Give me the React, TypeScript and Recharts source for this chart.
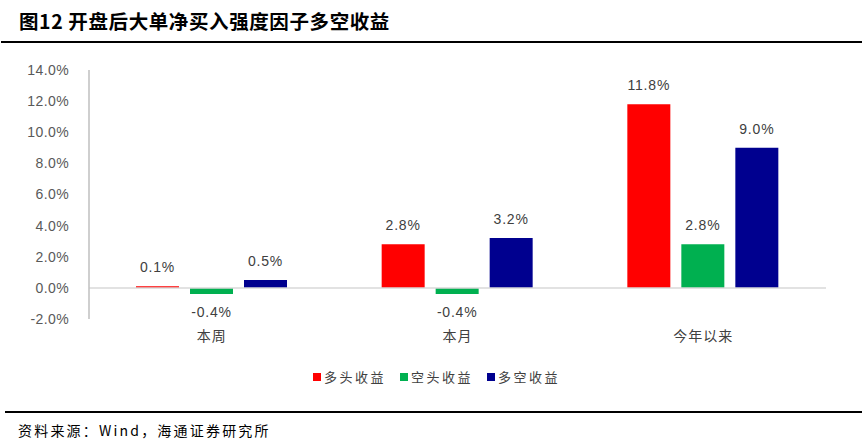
import React from 'react'
import { BarChart, Bar, XAxis, YAxis, ReferenceLine, LabelList } from 'recharts'

// categories and series values (in %)
const categories = ['本周', '本月', '今年以来']
const longValues = [0.1, 2.8, 11.8]
const shortValues = [-0.4, -0.4, 2.8]
const spreadValues = [0.5, 3.2, 9.0]
const yTicks = [-2, 0, 2, 4, 6, 8, 10, 12, 14]

const series = [
  { key: 'long', label: '多头收益', color: '#ff0000', values: longValues },
  { key: 'short', label: '空头收益', color: '#00b050', values: shortValues },
  { key: 'spread', label: '多空收益', color: '#00008f', values: spreadValues },
]

const data = categories.map((name, i) => {
  const row: Record<string, number | string> = { name }
  for (const s of series) row[s.key] = s.values[i]
  return row
})

const FONT = '"Liberation Sans", Arial, "Noto Sans CJK SC", sans-serif'
const CJK = '"Noto Sans CJK SC", "Liberation Sans", sans-serif'

// value label: above a positive bar, below a negative one
function ValueLabel(props: any) {
  const { x, y, width, height, value } = props
  const top = Math.min(y, y + height)
  const bottom = Math.max(y, y + height)
  const cy = value >= 0 ? top - 19 : bottom + 18
  return (
    <text x={x + width / 2} y={cy} dy="0.35em" textAnchor="middle"
      fill="#404040" fontSize={14} letterSpacing={0.8} fontFamily={FONT}>
      {`${Number(value).toFixed(1)}%`}
    </text>
  )
}

export default function App() {
  return (
    <div style={{ position: 'absolute', left: 0, top: 0, width: 868, height: 444, background: '#fff', overflow: 'hidden' }}>
      <div style={{
        position: 'absolute', left: 19, top: 8, fontFamily: CJK, fontWeight: 700,
        fontSize: 19.5, color: '#000', whiteSpace: 'nowrap', lineHeight: '26px', letterSpacing: 0.6,
      }}>
        图12 开盘后大单净买入强度因子多空收益
      </div>
      <div style={{ position: 'absolute', left: 1, right: 6, top: 41, height: 1.5, background: '#000' }} />

      <div style={{ position: 'absolute', left: 0, top: 0 }}>
        <BarChart width={868} height={444} data={data}
          margin={{ top: 70, right: 42, left: 29, bottom: 95 }}
          barSize={43} barGap={11}>
          <XAxis dataKey="name" axisLine={false} tickLine={false} tickSize={6} tickMargin={6}
            height={30} interval={0}
            tick={{ fill: '#404040', fontSize: 14, fontFamily: CJK, letterSpacing: 1 }} />
          <YAxis domain={[-2, 14]} ticks={yTicks} width={60} tickLine={false}
            axisLine={{ stroke: '#bfbfbf', strokeWidth: 1.5 }} tickMargin={14}
            tickFormatter={(v: number) => `${v.toFixed(1)}%`}
            tick={{ fill: '#595959', fontSize: 14, fontFamily: FONT, letterSpacing: 0.4 }} />
          <ReferenceLine y={0} stroke="#d9d9d9" strokeWidth={1.5} />
          {series.map((s) => (
            <Bar key={s.key} dataKey={s.key} name={s.label} fill={s.color} isAnimationActive={false}>
              <LabelList dataKey={s.key} content={<ValueLabel />} />
            </Bar>
          ))}
        </BarChart>
      </div>

      <div style={{
        position: 'absolute', top: 368, left: 313, display: 'flex', gap: 14,
        fontFamily: CJK, fontSize: 13, color: '#404040',
      }}>
        {series.map((s) => (
          <div key={s.key} style={{ display: 'flex', alignItems: 'center', lineHeight: '18px' }}>
            <span style={{ display: 'inline-block', width: 8, height: 8, background: s.color, marginRight: 3 }} />
            <span style={{ letterSpacing: 2.5 }}>{s.label}</span>
          </div>
        ))}
      </div>

      <div style={{ position: 'absolute', left: 5, right: 6, top: 411, height: 1.5, background: '#000' }} />
      <div style={{
        position: 'absolute', left: 18, top: 419, fontFamily: CJK, fontSize: 14,
        color: '#000', whiteSpace: 'nowrap', lineHeight: '22px', letterSpacing: 2.2,
      }}>
        资料来源：Wind，海通证券研究所
      </div>
    </div>
  )
}
